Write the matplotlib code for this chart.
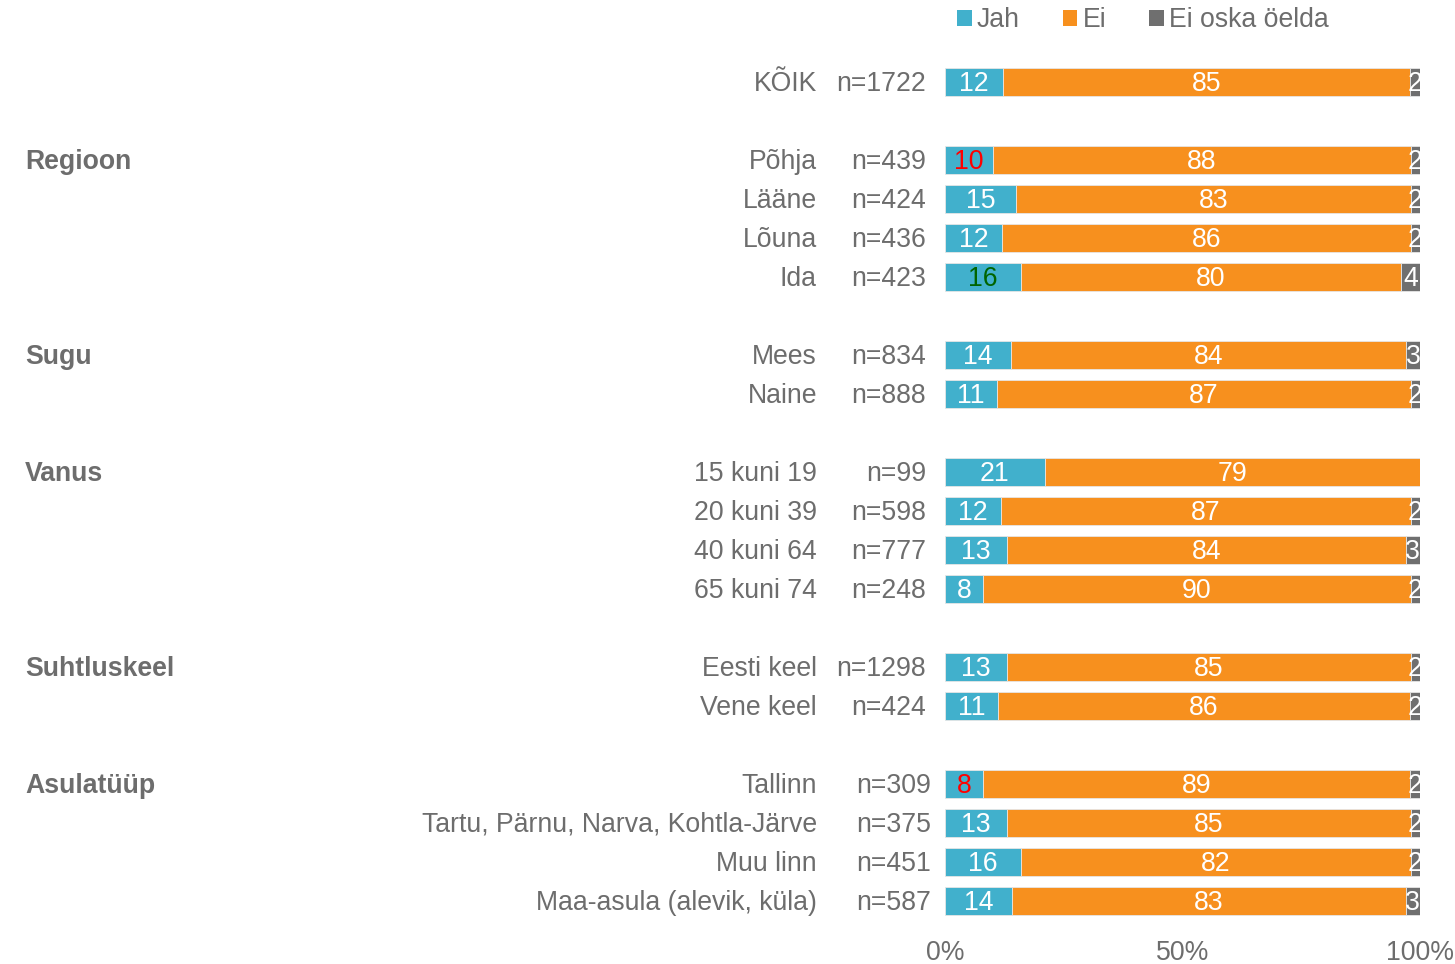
import matplotlib.pyplot as plt
from matplotlib.patches import Patch
from matplotlib.transforms import blended_transform_factory

plt.rcParams['font.family'] = ['Liberation Sans', 'DejaVu Sans']

# --- data ---
groups = ["", "Regioon", "Sugu", "Vanus", "Suhtluskeel", "Asulatüüp"]
categories = [
    ["KÕIK"],
    ["Põhja", "Lääne", "Lõuna", "Ida"],
    ["Mees", "Naine"],
    ["15 kuni 19", "20 kuni 39", "40 kuni 64", "65 kuni 74"],
    ["Eesti keel", "Vene keel"],
    ["Tallinn", "Tartu, Pärnu, Narva, Kohtla-Järve", "Muu linn", "Maa-asula (alevik, küla)"],
]
n_labels = [
    ["n=1722"],
    ["n=439", "n=424", "n=436", "n=423"],
    ["n=834", "n=888"],
    ["n=99", "n=598", "n=777", "n=248"],
    ["n=1298", "n=424"],
    ["n=309", "n=375", "n=451", "n=587"],
]
jah = [12, 10, 15, 12, 16, 14, 11, 21, 12, 13, 8, 13, 11, 8, 13, 16, 14]
ei = [85, 88, 83, 86, 80, 84, 87, 79, 87, 84, 90, 85, 86, 89, 85, 82, 83]
ei_oska = [2, 2, 2, 2, 4, 3, 2, 0, 2, 3, 2, 2, 2, 2, 2, 2, 3]
series_names = ["Jah", "Ei", "Ei oska öelda"]
colors = ["#41b0cc", "#f7901e", "#6f6f6f"]
# special label colours (row index -> colour for the "Jah" label)
jah_label_colors = {1: "#ff0000", 4: "#006400", 13: "#ff0000"}

TXT = "#6d6d6d"
FS = 19.2
DY = 0.05  # small downward nudge for text

# row positions: one empty row between groups
ypos = []
row = 0
for g in categories:
    for _ in g:
        ypos.append(row)
        row += 1
    row += 1
nrows = row - 1

fig = plt.figure(figsize=(14.55, 9.64), dpi=100)
W, H = 1455, 964
top_px, bot_px = 82 - 19.5, 82 + (nrows - 1) * 39 + 19.5
ax = fig.add_axes([945 / W, 1 - bot_px / H, 475 / W, (bot_px - top_px) / H])

series = [jah, ei, ei_oska]
lefts = [0.0] * len(jah)
totals = [a + b + c for a, b, c in zip(jah, ei, ei_oska)]
for si, vals in enumerate(series):
    widths = [v / t for v, t in zip(vals, totals)]
    ax.barh(ypos, widths, left=lefts, height=0.72, color=colors[si],
            edgecolor="#e6e6e6", linewidth=0.6, label=series_names[si])
    for i, (v, w) in enumerate(zip(vals, widths)):
        if v == 0:
            continue
        c = "white"
        if si == 0 and i in jah_label_colors:
            c = jah_label_colors[i]
        ax.text(lefts[i] + w / 2, ypos[i] + DY, str(v), ha="center", va="center",
                color=c, fontsize=FS)
    lefts = [l + w for l, w in zip(lefts, widths)]

ax.set_xlim(0, 1)
ax.set_ylim(nrows - 0.5, -0.5)
ax.set_yticks([])
ax.set_xticks([0, 0.5, 1])
ax.set_xticklabels(["0%", "50%", "100%"])
ax.tick_params(axis="x", length=0, pad=14, labelsize=FS, labelcolor=TXT)
for s in ax.spines.values():
    s.set_visible(False)

# left side labels
tr = blended_transform_factory(fig.transFigure, ax.transData)
k = 0
for gi, (gname, cats, ns) in enumerate(zip(groups, categories, n_labels)):
    nx = 931 if gi == len(groups) - 1 else 926
    for j, (c, n) in enumerate(zip(cats, ns)):
        y = ypos[k] + DY
        if j == 0 and gname:
            ax.text(25 / W, y, gname, transform=tr, ha="left", va="center",
                    fontsize=FS, fontweight="bold", color=TXT)
        ax.text(817 / W, y, c, transform=tr, ha="right", va="center",
                fontsize=FS, color=TXT)
        ax.text(nx / W, y, n, transform=tr, ha="right", va="center",
                fontsize=FS, color=TXT)
        k += 1

handles = [Patch(facecolor=c, edgecolor="none") for c in colors]
fig.legend(handles, series_names, loc="center left",
           bbox_to_anchor=(957 / W, 1 - 20 / H), ncol=3, frameon=False,
           fontsize=FS, labelcolor=TXT, handlelength=0.55, handleheight=0.55,
           handletextpad=0.2, columnspacing=1.6, borderpad=0, borderaxespad=0)

fig.savefig("out.png", dpi=100, facecolor="white")
